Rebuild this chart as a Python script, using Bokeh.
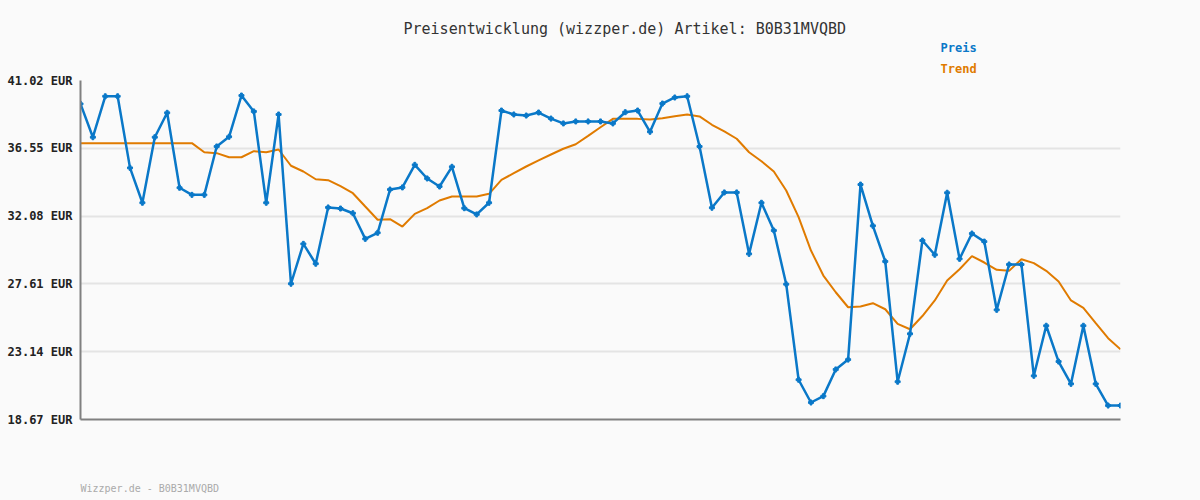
from bokeh.plotting import figure
from bokeh.models import Range1d, FixedTicker, CustomJSTickFormatter, Title
from bokeh.embed import file_html
from bokeh.resources import INLINE

preis = [39.48, 37.28, 39.98, 39.98, 35.26, 32.96, 37.28, 38.89, 33.95, 33.48,
         33.48, 36.67, 37.31, 40.03, 38.98, 32.96, 38.78, 27.62, 30.25, 28.94,
         32.65, 32.58, 32.27, 30.58, 30.98, 33.83, 33.97, 35.46, 34.56, 34.03,
         35.33, 32.60, 32.19, 32.96, 39.04, 38.78, 38.71, 38.91, 38.51, 38.19,
         38.32, 38.32, 38.32, 38.19, 38.93, 39.04, 37.64, 39.50, 39.90, 39.98,
         36.67, 32.63, 33.64, 33.64, 29.59, 32.96, 31.13, 27.59, 21.29, 19.79,
         20.21, 21.97, 22.62, 34.16, 31.44, 29.09, 21.16, 24.32, 30.47, 29.53,
         33.62, 29.26, 30.93, 30.40, 25.90, 28.89, 28.89, 21.55, 24.85, 22.49,
         21.02, 24.85, 21.02, 19.59, 19.59]

trend = [36.89, 36.89, 36.89, 36.89, 36.89, 36.89, 36.89, 36.89, 36.89, 36.89,
         36.29, 36.23, 35.96, 35.96, 36.36, 36.29, 36.47, 35.40, 35.02, 34.51,
         34.45, 34.05, 33.59, 32.71, 31.84, 31.88, 31.39, 32.23, 32.60, 33.11,
         33.37, 33.37, 33.37, 33.55, 34.47, 34.91, 35.35, 35.75, 36.14, 36.52,
         36.82, 37.37, 37.94, 38.49, 38.49, 38.49, 38.45, 38.53, 38.67, 38.78,
         38.65, 38.10, 37.66, 37.18, 36.29, 35.70, 35.02, 33.77, 32.01, 29.81,
         28.16, 27.06, 26.07, 26.12, 26.34, 25.94, 24.98, 24.62, 25.49, 26.52,
         27.83, 28.58, 29.44, 29.02, 28.54, 28.47, 29.24, 28.98, 28.47, 27.77,
         26.52, 26.03, 25.02, 24.03, 23.30]

y_ticks = [18.67, 23.14, 27.61, 32.08, 36.55, 41.02]
title_text = "Preisentwicklung (wizzper.de) Artikel: B0B31MVQBD"
footer_text = "Wizzper.de - B0B31MVQBD"
legend_names = ["Preis", "Trend"]

BLUE = "#0a78c8"
ORANGE = "#e07b00"
BG = "#fafafa"
MONO = "DejaVu Sans Mono"

x = list(range(len(preis)))

p = figure(width=1200, height=500, output_backend="svg", toolbar_location=None,
           x_range=Range1d(0, len(preis) - 1), y_range=Range1d(y_ticks[0], y_ticks[-1]),
           min_border_left=80, min_border_right=80, min_border_top=80, min_border_bottom=81,
           background_fill_color=BG, border_fill_color=BG)
p.outline_line_color = None

p.xgrid.visible = False
p.ygrid.grid_line_color = "#e4e4e4"
p.ygrid.grid_line_width = 2

p.xaxis.ticker = FixedTicker(ticks=[])
p.xaxis.axis_line_color = "#808080"
p.xaxis.axis_line_width = 2
p.xaxis.major_tick_line_color = None
p.xaxis.minor_tick_line_color = None
p.xaxis.major_label_text_font_size = "0px"

p.yaxis.ticker = FixedTicker(ticks=y_ticks)
p.yaxis.formatter = CustomJSTickFormatter(code="return tick.toFixed(2) + ' EUR';")
p.yaxis.axis_line_color = "#808080"
p.yaxis.axis_line_width = 2
p.yaxis.major_tick_in = 0
p.yaxis.major_tick_out = 0
p.yaxis.minor_tick_line_color = None
p.yaxis.major_label_standoff = 8
p.yaxis.major_label_text_font = MONO
p.yaxis.major_label_text_font_style = "bold"
p.yaxis.major_label_text_font_size = "12px"
p.yaxis.major_label_text_color = "#222222"

p.line(x, trend, line_color=ORANGE, line_width=2)
p.line(x, preis, line_color=BLUE, line_width=2.5)
p.scatter(x, preis, marker="plus", size=5, color=BLUE)

# Titles added "above" stack outward from the frame: Trend, Preis, then the chart title
p.add_layout(Title(text=legend_names[1], align="left", offset=860, standoff=10,
                   text_font=MONO, text_font_size="12px", text_font_style="bold",
                   text_color=ORANGE), "above")
p.add_layout(Title(text=legend_names[0], align="left", offset=860, standoff=0,
                   text_font=MONO, text_font_size="12px", text_font_style="bold",
                   text_color=BLUE), "above")
p.add_layout(Title(text=title_text, align="left", offset=323, standoff=2,
                   text_font=MONO, text_font_size="15px", text_font_style="normal",
                   text_color="#333333"), "above")
# spacer below the x axis, then the footer
p.add_layout(Title(text=" ", align="left", offset=0, standoff=48,
                   text_font=MONO, text_font_size="10px",
                   text_color=BG), "below")
p.add_layout(Title(text=footer_text, align="left", offset=0, standoff=0,
                   text_font=MONO, text_font_size="10px", text_font_style="normal",
                   text_color="#aaaaaa"), "below")

html = file_html(p, INLINE)
html = html.replace("<head>", "<head><style>body{background:#fafafa;}</style>", 1)
open("out.html", "w").write(html)
